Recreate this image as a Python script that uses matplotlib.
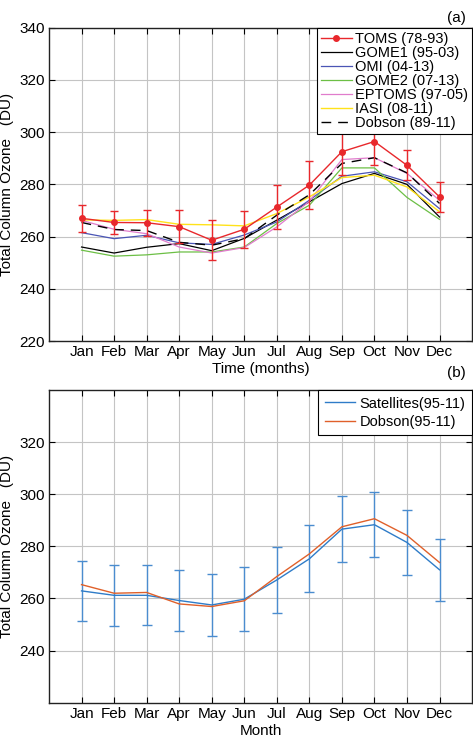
import matplotlib
matplotlib.use("Agg")
import matplotlib.pyplot as plt
from matplotlib.lines import Line2D
import numpy as np

plt.rcParams['font.family'] = ['Liberation Sans', 'DejaVu Sans']

months = ['Jan', 'Feb', 'Mar', 'Apr', 'May', 'Jun', 'Jul', 'Aug', 'Sep', 'Oct', 'Nov', 'Dec']

# Panel (a)
toms = [267.0, 265.4, 265.3, 263.8, 258.6, 262.8, 271.3, 279.7, 292.5, 296.4, 287.3, 275.2]
toms_err = [5.1, 4.4, 5.0, 6.3, 7.6, 7.1, 8.5, 9.3, 8.8, 9.0, 5.8, 5.8]
gome1 = [256.0, 253.7, 255.9, 257.3, 254.6, 259.3, 266.3, 273.3, 280.3, 284.2, 280.0, 267.5]
omi = [261.5, 259.2, 260.5, 257.6, 257.0, 260.6, 265.6, 273.9, 283.1, 284.8, 281.0, 270.7]
gome2 = [254.8, 252.5, 253.0, 254.1, 254.1, 256.0, 265.0, 272.0, 286.3, 286.3, 275.0, 266.6]
eptoms = [266.2, 262.8, 261.1, 256.0, 253.7, 255.8, 263.7, 273.5, 289.5, 290.2, 284.2, 273.9]
iasi = [266.4, 266.2, 266.5, 264.7, 264.5, 264.1, 268.8, 275.2, 282.6, 283.5, 279.0, 269.5]
dobson_a = [265.4, 262.7, 262.3, 257.8, 256.7, 259.2, 268.2, 276.0, 288.0, 290.2, 284.4, 272.7]

# Panel (b)
satellites = [262.9, 261.2, 261.2, 259.2, 257.5, 259.7, 267.1, 275.2, 286.6, 288.3, 281.5, 271.0]
sat_err = [11.6, 11.7, 11.5, 11.6, 11.9, 12.2, 12.7, 12.9, 12.6, 12.5, 12.4, 11.8]
dobson_b = [265.3, 262.0, 262.3, 257.9, 256.9, 259.1, 268.4, 277.1, 287.5, 290.6, 284.2, 273.8]

x = np.arange(1, 13)

fig = plt.figure(figsize=(4.73, 7.42), dpi=100)
axa = fig.add_axes([0.1036, 0.5404, 0.8944, 0.4223])
axb = fig.add_axes([0.1036, 0.0530, 0.8944, 0.4214])

grid_kw = dict(color='#c4c4c4', linewidth=0.8)

def style(ax):
    ax.set_xlim(0, 13)
    ax.set_ylim(220, 340)
    ax.set_xticks(x)
    ax.set_xticklabels(months)
    ax.tick_params(direction='in', top=True, right=True, labelsize=11, length=4, width=0.8, pad=3)
    ax.grid(True, **grid_kw)
    ax.set_axisbelow(True)
    for s in ax.spines.values():
        s.set_linewidth(1.0)
        s.set_color('#222222')

style(axa)
axa.set_yticks(np.arange(220, 341, 20))
red = '#e8282c'
axa.errorbar(x, toms, yerr=toms_err, color=red, marker='o', markersize=4,
             linewidth=1.0, capsize=3, elinewidth=1.0, zorder=5)
l1, = axa.plot(x, gome1, color='black', linewidth=0.9)
l2, = axa.plot(x, omi, color='#4a55b5', linewidth=0.9)
l3, = axa.plot(x, gome2, color='#6cbf45', linewidth=0.9)
l4, = axa.plot(x, eptoms, color='#e07ccc', linewidth=0.9)
l5, = axa.plot(x, iasi, color='#ffe21a', linewidth=1.0)
l6, = axa.plot(x, dobson_a, color='black', linewidth=1.0, dashes=(7, 5))
h0 = Line2D([], [], color=red, marker='o', markersize=4, linewidth=1.0)
axa.set_xlabel('Time (months)', fontsize=11, labelpad=2)
axa.set_ylabel('Total Column Ozone   (DU)', fontsize=11, labelpad=4)
leg = axa.legend([h0, l1, l2, l3, l4, l5, l6],
                 ['TOMS (78-93)', 'GOME1 (95-03)', 'OMI (04-13)', 'GOME2 (07-13)',
                  'EPTOMS (97-05)', 'IASI (08-11)', 'Dobson (89-11)'],
                 loc='upper right', fontsize=10.5, frameon=True, fancybox=False,
                 edgecolor='black', framealpha=1, borderaxespad=0.0,
                 handlelength=2.1, handletextpad=0.2, labelspacing=0.0, borderpad=0.3)
leg.get_frame().set_linewidth(0.8)
fig.text(0.985, 0.985, '(a)', ha='right', va='top', fontsize=11)

style(axb)
axb.set_yticks(np.arange(240, 321, 20))
blue = '#2f7cc8'
axb.errorbar(x, satellites, yerr=sat_err, color=blue, ecolor='#4a8ccf', linewidth=1.0,
             capsize=3.5, elinewidth=1.0, zorder=4)
lb, = axb.plot(x, dobson_b, color='#e0602a', linewidth=1.0, zorder=5)
hs = Line2D([], [], color=blue, linewidth=1.0)
axb.set_xlabel('Month', fontsize=11, labelpad=2)
axb.set_ylabel('Total Column Ozone   (DU)', fontsize=11, labelpad=4)
legb = axb.legend([hs, lb], ['Satellites(95-11)', 'Dobson(95-11)'],
                  loc='upper right', fontsize=10.5, frameon=True, fancybox=False,
                  edgecolor='black', framealpha=1, borderaxespad=0.0,
                  handlelength=2.1, handletextpad=0.3, labelspacing=0.3, borderpad=0.45)
legb.get_frame().set_linewidth(0.8)
fig.text(0.985, 0.497, '(b)', ha='right', va='center', fontsize=11)

fig.savefig('out.png', dpi=100)
